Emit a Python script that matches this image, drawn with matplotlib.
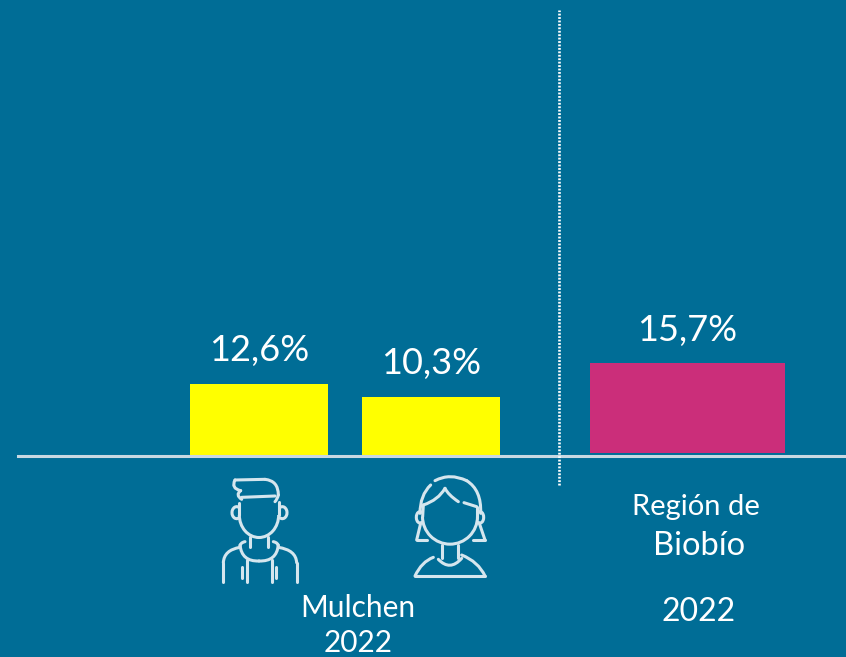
import matplotlib
matplotlib.use("Agg")
import matplotlib.pyplot as plt
from matplotlib.path import Path
from matplotlib.patches import PathPatch, Arc

# Values
mulchen_values = [12.6, 10.3]
biobio_values = [15.7]
mulchen_labels = ["12,6%", "10,3%"]
biobio_labels = ["15,7%"]

BG = "#006D96"
YELLOW = "#FFFF00"
PINK = "#CB2E7A"
ICON = "#D5E6EE"
FONT = "Lato"
ICON_LW = 2.2

W, H = 846, 657
BASE_Y = 456
PX_PER_PCT = 5.72

plt.rcParams["font.family"] = [FONT, "DejaVu Sans"]

fig = plt.figure(figsize=(W / 100, H / 100), dpi=100, facecolor=BG)

# Main axes: x in pixels, y in percent with 0 on the base line
ax = fig.add_axes([0, 0, 1, 1], facecolor="none")
ax.set_xlim(0, W)
ax.set_ylim(-(H - BASE_Y) / PX_PER_PCT, BASE_Y / PX_PER_PCT)
ax.axis("off")

bars_m = ax.bar([259, 431], mulchen_values, width=138, color=YELLOW, zorder=2)
bars_b = ax.bar([687.5], biobio_values, width=195, bottom=3 / PX_PER_PCT,
                color=PINK, zorder=2)
ax.bar_label(bars_m, labels=mulchen_labels, padding=12, color="white", fontsize=26)
ax.bar_label(bars_b, labels=biobio_labels, padding=12, color="white", fontsize=26)

# Base line and dotted divider
ax.axhline(0, xmin=18 / W, color="#C8D8E2", lw=2.2, zorder=3)
ax.axvline(559, ymin=(H - 485) / H, ymax=(H - 10) / H, color="white",
           lw=1.9, ls=(0, (0.7, 0.6)), zorder=4)

# Icon layer, coordinates in image pixels
ov = fig.add_axes([0, 0, 1, 1], facecolor="none")
ov.set_xlim(0, W)
ov.set_ylim(H, 0)
ov.axis("off")

ov.text(358, 608, "Mulchen", color="white", fontsize=21.5, ha="center", va="center")
ov.text(358, 643, "2022", color="white", fontsize=21.5, ha="center", va="center")
ov.text(696, 507, "Región de", color="white", fontsize=21, ha="center", va="center")
ov.text(699, 546, "Biobío", color="white", fontsize=23.5, ha="center", va="center")
ov.text(699, 612, "2022", color="white", fontsize=23, ha="center", va="center")


def z(p):
    # zoomed crop coordinates back to image pixels
    return (190 + p[0] / 3, 460 + p[1] / 3)


def stroke(pts, curve=False):
    pts = [z(p) for p in pts]
    if curve:
        codes = [Path.MOVETO] + [Path.CURVE3] * (len(pts) - 1)
    else:
        codes = [Path.MOVETO] + [Path.LINETO] * (len(pts) - 1)
    ov.add_patch(PathPatch(Path(pts, codes), fill=False, ec=ICON, lw=ICON_LW,
                           capstyle="round", joinstyle="round"))


def oval(c, w, h, theta1=0, theta2=360):
    x, y = z(c)
    ov.add_patch(Arc((x, y), w / 3, h / 3, theta1=theta1, theta2=theta2,
                     ec=ICON, lw=ICON_LW))


# man
stroke([(135, 60), (225, 58)])
stroke([(225, 58), (265, 62), (265, 105)], True)
stroke([(135, 60), (122, 85), (152, 92)], True)
stroke([(152, 92), (135, 105), (155, 118)], True)
stroke([(155, 112), (255, 108)])
stroke([(265, 105), (262, 118), (255, 125)], True)
oval((207, 165), 118, 135, 0, 180)
stroke([(148, 165), (148, 130)])
stroke([(266, 165), (266, 125)])
oval((140, 158), 28, 36, 60, 300)
oval((277, 158), 28, 36, -120, 120)
stroke([(180, 232), (180, 262)])
stroke([(235, 232), (235, 262)])
stroke([(150, 255), (155, 305), (207, 303)], True)
stroke([(265, 255), (260, 305), (207, 303)], True)
stroke([(165, 245), (150, 248), (150, 260)], True)
stroke([(250, 245), (265, 248), (265, 260)], True)
stroke([(100, 365), (100, 308)])
stroke([(100, 308), (102, 270), (150, 262)], True)
stroke([(320, 365), (320, 308)])
stroke([(320, 308), (318, 270), (265, 262)], True)
stroke([(172, 365), (172, 300)])
stroke([(245, 365), (245, 300)])
stroke([(155, 320), (155, 355)])
stroke([(258, 320), (258, 355)])

# woman
stroke([(735, 62), (780, 38), (830, 62)], True)
stroke([(830, 62), (875, 90), (872, 160)], True)
stroke([(722, 75), (690, 105), (690, 160)], True)
stroke([(700, 135), (745, 120), (765, 85)], True)
stroke([(765, 85), (775, 105), (805, 125)], True)
stroke([(822, 128), (860, 140)])
oval((780, 170), 165, 165, 0, 180)
stroke([(698, 170), (700, 135)])
stroke([(862, 170), (862, 140)])
oval((690, 172), 22, 34, 60, 300)
oval((870, 172), 22, 34, -120, 120)
stroke([(692, 190), (680, 240)])
stroke([(680, 240), (710, 240)])
stroke([(868, 190), (885, 240)])
stroke([(885, 240), (850, 240)])
stroke([(757, 255), (757, 295)])
stroke([(805, 255), (805, 295)])
stroke([(745, 298), (780, 335), (815, 295)], True)
stroke([(675, 348), (695, 305), (730, 292)], True)
stroke([(885, 348), (865, 305), (815, 285)], True)
stroke([(675, 348), (885, 348)])

fig.savefig("out.png", dpi=100, facecolor=BG)
